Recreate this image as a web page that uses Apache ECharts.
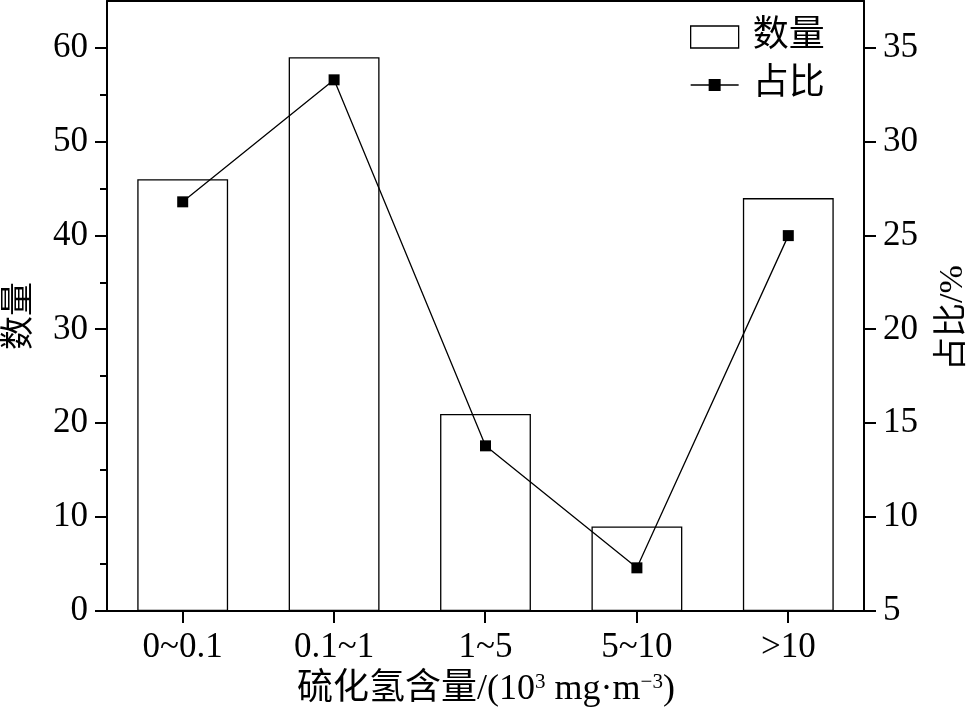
<!DOCTYPE html>
<html>
<head>
<meta charset="utf-8">
<script src="https://cdn.jsdelivr.net/npm/echarts@6/dist/echarts.min.js"></script>
<style>html,body{margin:0;padding:0;background:#fff;}#c{width:974px;height:714px;}</style>
</head>
<body>
<div id="c"></div>
<script>
var categories = ['0~0.1', '0.1~1', '1~5', '5~10', '>10'];
var countValues = [46, 59, 21, 9, 44];
var shareValues = [26.8, 33.3, 13.8, 7.3, 25.0];
var leftTicks = [0, 10, 20, 30, 40, 50, 60];
var leftMinorTicks = [5, 15, 25, 35, 45, 55];
var rightTicks = [5, 10, 15, 20, 25, 30, 35];

var FONT = "'Liberation Serif','Times New Roman','Noto Sans CJK SC',serif";
var chart = echarts.init(document.getElementById('c'));
function lineStyle() { return { color: '#000', width: 2 }; }

var titles = [
  {
    type: 'text', x: 20, y: 316, rotation: Math.PI / 2,
    style: { text: '数量', font: "34px " + FONT, fill: '#000', textAlign: 'center', textVerticalAlign: 'middle' }
  },
  {
    type: 'text', x: 953, y: 318, rotation: Math.PI / 2,
    style: { text: '占比/%', font: "34px " + FONT, fill: '#000', textAlign: 'center', textVerticalAlign: 'middle' }
  },
  {
    type: 'text', x: 486, y: 690,
    style: {
      text: '硫化氢含量/(10{sup|3} mg·m{sup|−3})',
      font: "36px " + FONT, fill: '#000', textAlign: 'center', textVerticalAlign: 'middle',
      rich: { sup: { fontFamily: FONT, fontSize: 21, verticalAlign: 'top', padding: [0, 0, 14, 0], fill: '#000' } }
    }
  }
];

chart.setOption({
  backgroundColor: '#fff',
  animation: false,
  grid: { left: 107, right: 110, top: 1, bottom: 103, containLabel: false },
  legend: {
    orient: 'vertical', left: 685, top: 14,
    itemWidth: 48, itemHeight: 22, itemGap: 12,
    textStyle: { fontFamily: FONT, fontSize: 36, color: '#000', lineHeight: 34, padding: [0, 0, 0, 9] },
    data: [
      { name: '数量', icon: 'rect', itemStyle: { color: '#fff', borderColor: '#000', borderWidth: 1.3 } },
      { name: '占比', icon: 'path://M0,10.3L48,10.3L48,11.7L0,11.7Z M18,5L30,5L30,17L18,17Z', itemStyle: { color: '#000' } }
    ]
  },
  xAxis: [
    {
      type: 'category', data: categories.slice(), position: 'bottom',
      axisLine: { onZero: false, lineStyle: lineStyle() },
      axisTick: { show: false },
      axisLabel: { fontFamily: FONT, fontSize: 35, color: '#000', margin: 19 },
      splitLine: { show: false }
    },
    {
      type: 'category', data: categories.slice(), position: 'top',
      axisLine: { show: true, onZero: false, lineStyle: lineStyle() },
      axisTick: { show: false }, axisLabel: { show: false }, splitLine: { show: false }
    }
  ],
  yAxis: [
    {
      type: 'value', position: 'left', min: 0, max: 65, interval: 5,
      axisLine: { show: true, onZero: false, lineStyle: lineStyle() },
      axisTick: { show: false },
      axisLabel: { customValues: leftTicks.slice(), fontFamily: FONT, fontSize: 35, color: '#000', margin: 19 },
      splitLine: { show: false }
    },
    {
      type: 'value', position: 'right', min: 5, max: 37.5, interval: 5,
      axisLine: { show: true, onZero: false, lineStyle: lineStyle() },
      axisTick: { show: false },
      axisLabel: { customValues: rightTicks.slice(), fontFamily: FONT, fontSize: 35, color: '#000', margin: 19 },
      splitLine: { show: false }
    }
  ],
  series: [
    {
      name: '数量', type: 'bar', xAxisIndex: 0, yAxisIndex: 0, data: countValues,
      barWidth: '60%',
      itemStyle: { color: '#fff', borderColor: '#000', borderWidth: 1.3 }
    },
    {
      name: '占比', type: 'line', xAxisIndex: 0, yAxisIndex: 1, data: shareValues,
      symbol: 'rect', symbolSize: 11, z: 5,
      lineStyle: { color: '#000', width: 1.3 },
      itemStyle: { color: '#000' }
    }
  ],
  graphic: titles
});

// Axis ticks placed through the chart's own scales
var rect = chart.getModel().getComponent('grid', 0).coordinateSystem.getRect();
var L = Math.round(rect.x), R = Math.round(rect.x + rect.width), B = Math.round(rect.y + rect.height);
var tickEls = [];
function tick(x1, y1, x2, y2) {
  tickEls.push({ type: 'line', z: 10, silent: true, shape: { x1: x1, y1: y1, x2: x2, y2: y2 }, style: { stroke: '#000', lineWidth: 2 } });
}
leftTicks.forEach(function (v) { var y = Math.round(chart.convertToPixel({ yAxisIndex: 0 }, v)); tick(L - 12, y, L, y); });
leftMinorTicks.forEach(function (v) { var y = Math.round(chart.convertToPixel({ yAxisIndex: 0 }, v)); tick(L - 7, y, L, y); });
rightTicks.forEach(function (v) { var y = Math.round(chart.convertToPixel({ yAxisIndex: 1 }, v)); tick(R, y, R + 12, y); });
categories.forEach(function (c, i) { var x = Math.round(chart.convertToPixel({ xAxisIndex: 0 }, i)); tick(x, B, x, B + 12); });
chart.setOption({ graphic: titles.concat(tickEls) });
</script>
</body>
</html>
